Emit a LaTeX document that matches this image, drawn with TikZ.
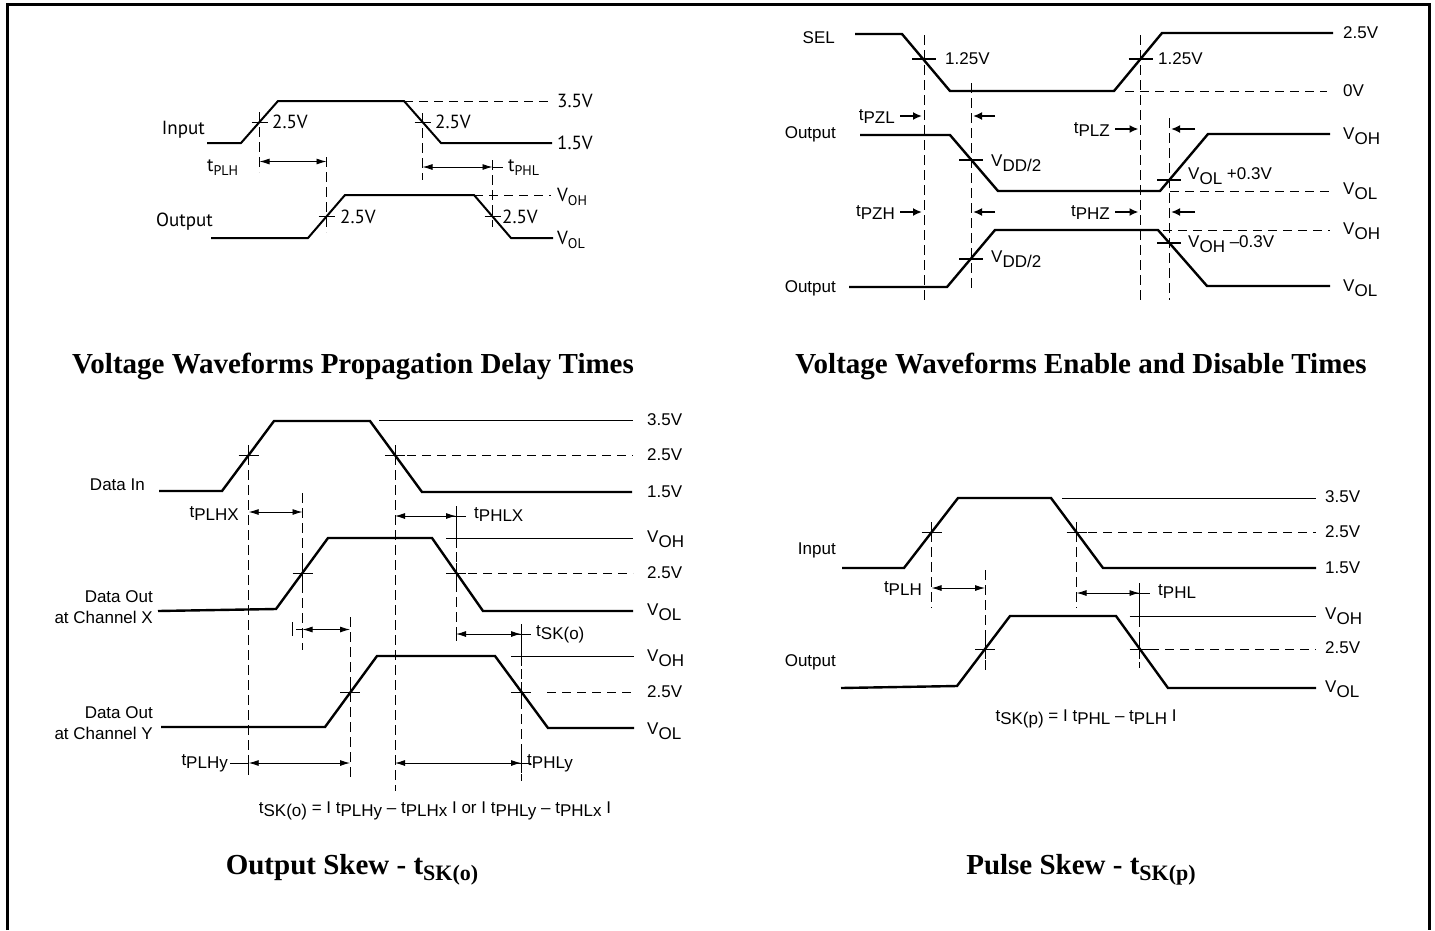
\documentclass[tikz,border=0pt]{standalone}
\usepackage{fontspec}
\setmainfont{Liberation Sans}
\newfontfamily\titlefont{Liberation Serif}
\newfontfamily\ptfont{PT Sans}
\usetikzlibrary{arrows.meta}
% t and V with lowered suffix, as the datasheet prints them
\newcommand\tsub[1]{t\raisebox{-3pt}{#1}}
\newcommand\vsub[1]{V\raisebox{-5pt}{#1}}
\newcommand\ssub[1]{\raisebox{-4pt}{\fontsize{14}{14}\selectfont #1}}

\begin{document}
\begin{tikzpicture}[x=1pt, y=-1pt,
      font=\fontsize{17}{19}\selectfont,
      lbl/.style={inner sep=0pt},
      wave/.style={line width=2.4pt, line join=miter},
      thin/.style={line width=0.9pt},
      dsh/.style={line width=0.9pt, dash pattern=on 9pt off 6pt},
      vdsh/.style={line width=0.9pt, dash pattern=on 10pt off 5pt},
      parr/.style={line width=2pt, -{Latex[length=9pt,width=8pt]}},
      title/.style={font=\titlefont\bfseries\fontsize{29}{33}\selectfont, inner sep=0pt},
      >={Latex[length=10pt,width=6pt]}
    ]
    \useasboundingbox (0,0) rectangle (1435,930);
    \draw[line width=3pt] (7,930) -- (7,4) -- (1429,4) -- (1429,930);

    % Propagation delay times (top left)
    \begin{scope}[font=\ptfont\fontsize{19}{21}\selectfont]
      \node[lbl, anchor=east] (pdIn) at (205,130) {Input};
      \node[lbl, anchor=east] (pdOut) at (213,222) {Output};
      \draw[wave, line width=2pt] (207,143) -- (241,143) -- (278,101) -- (404,101) -- (441,143) -- (552,143);
      \draw[wave, line width=2pt] (211,238) -- (308,238) -- (345,195) -- (474,195) -- (511,238) -- (553,238);
      \draw[dsh] (404,101) -- (551,101);
      \draw[dsh] (474,195) -- (551,195);
      \foreach \x/\ya/\yb in {259.5/112/172, 422.5/113/180, 326.5/157/232, 492.5/160/227}
        \draw[vdsh] (\x,\ya) -- (\x,\yb);
      \foreach \x/\y/\lx [count=\i] in {259.5/122/272, 422.5/122/435, 326.5/216.5/340, 492.5/216.5/502} {
        \draw[thin] (\x-8,\y) -- (\x+8,\y);
        \node[lbl, anchor=west] (pdMid\i) at (\lx,\y) {2.5V};
      }
      \draw[<->, thin] (259.5,161.5) -- (326.5,161.5);
      \draw[<->, thin] (422.5,167) -- (492.5,167);
      \draw[thin] (492.5,167) -- (503,167);
      \node[lbl, anchor=west] (pdPLH) at (207,168) {t\ssub{PLH}};
      \node[lbl, anchor=west] (pdPHL) at (508,168) {t\ssub{PHL}};
      \node[lbl, anchor=west] (pdHi) at (557,101) {3.5V};
      \node[lbl, anchor=west] (pdLo) at (557,143) {1.5V};
      \node[lbl, anchor=west] (pdOH) at (557,197) {V\ssub{OH}};
      \node[lbl, anchor=west] (pdOL) at (557,240) {V\ssub{OL}};
    \end{scope}
    \node[title] (ttPd) at (353,366) {Voltage Waveforms Propagation Delay Times};

    % Enable and disable times (top right)
    \node[lbl, anchor=east] (edSel) at (835,38) {SEL};
    \node[lbl, anchor=east] (edOutA) at (836,134) {Output};
    \node[lbl, anchor=east] (edOutB) at (836,288) {Output};
    \draw[wave] (855,34) -- (902,34) -- (950,91) -- (1114,91) -- (1162,33) -- (1333,33);
    \draw[wave] (860,135) -- (950,135) -- (998,191) -- (1160,191) -- (1208,134) -- (1330,134);
    \draw[wave] (849,287) -- (947,287) -- (995,230) -- (1158,230) -- (1207,286) -- (1330,286);
    \draw[dsh] (1125,91) -- (1327,91);
    \draw[dsh] (1170,191) -- (1330,191);
    \draw[dsh] (1163,230) -- (1330,230);
    \foreach \x/\ya/\yb in {924/35/303, 971/83/290, 1140.5/35/303, 1169/118/300}
      \draw[vdsh] (\x,\ya) -- (\x,\yb);
    \foreach \x/\y in {924/59, 1140.5/59, 971/159.5, 1169/180.3, 971/258.5, 1169/242.6}
      \draw[line width=2pt] (\x-12,\y) -- (\x+12,\y);
    \node[lbl, anchor=west] (edSelA) at (945,59) {1.25V};
    \node[lbl, anchor=west] (edSelB) at (1158,59) {1.25V};
    \node[lbl, anchor=west] (edHalfA) at (991,163) {\vsub{DD/2}};
    \node[lbl, anchor=west] (edHalfB) at (991,259) {\vsub{DD/2}};
    \node[lbl, anchor=west] (edPlus) at (1188,176) {\vsub{OL} +0.3V};
    \node[lbl, anchor=west] (edMinus) at (1188,244) {\vsub{OH} –0.3V};
    \foreach \y/\t [count=\i] in {32.5/2.5V, 91/0V, 136/\vsub{OH}, 191.5/\vsub{OL}, 231.5/\vsub{OH}, 288/\vsub{OL}}
      \node[lbl, anchor=west] (edLvl\i) at (1343,\y) {\t};
    \draw[parr] (900,116) -- (922,116);
    \draw[parr] (995,116) -- (973,116);
    \draw[parr] (1115,129) -- (1138.5,129);
    \draw[parr] (1195,129) -- (1171,129);
    \draw[parr] (900,212) -- (922,212);
    \draw[parr] (995,212) -- (973,212);
    \draw[parr] (1115,212) -- (1138.5,212);
    \draw[parr] (1195,212) -- (1171,212);
    \node[lbl, anchor=east] (edPZL) at (895,116) {\tsub{PZL}};
    \node[lbl, anchor=east] (edPLZ) at (1110,129) {\tsub{PLZ}};
    \node[lbl, anchor=east] (edPZH) at (895,212) {\tsub{PZH}};
    \node[lbl, anchor=east] (edPHZ) at (1110,212) {\tsub{PHZ}};
    \node[title] (ttEd) at (1081,366) {Voltage Waveforms Enable and Disable Times};

    % Output skew (bottom left)
    \node[lbl, anchor=east] (skIn) at (145,485) {Data In};
    \node[lbl, anchor=east, align=right, font=\fontsize{17}{21.5}\selectfont] (skX) at (153,607) {Data Out\\at Channel X};
    \node[lbl, anchor=east, align=right, font=\fontsize{17}{21.5}\selectfont] (skY) at (153,723) {Data Out\\at Channel Y};
    \draw[wave] (159,491) -- (222,491) -- (274,421) -- (370,421) -- (422,492) -- (632,492);
    \draw[wave] (158,611) -- (276,609) -- (328,538) -- (432,538) -- (483,611) -- (633,611);
    \draw[wave] (161,727) -- (325,727) -- (377,656) -- (495,656) -- (548,728) -- (634,728);
    \draw[thin] (379,420) -- (633,420);
    \draw[thin] (447,538) -- (633,538);
    \draw[thin] (511,656) -- (634,656);
    \draw[dsh] (407,455) -- (633,455);
    \draw[dsh] (468,573) -- (633,573);
    \draw[dsh] (547,692) -- (634,692);
    \foreach \x/\ya/\yb in {248.7/455/775, 395/455/791, 302.5/493/650, 456/507/641, 350/617/780, 521/624/781}
      \draw[vdsh] (\x,\ya) -- (\x,\yb);
    \foreach \x/\y in {248.7/455, 395/455, 302.5/573, 456/573, 350/692, 521/692, 456/538, 521/656, 456/516, 521/634, 521/763}
      \draw[thin] (\x-10,\y) -- (\x+10,\y) (\x,\y-10) -- (\x,\y+10);
    \draw[<->, thin] (248.7,512) -- (302.5,512);
    \draw[<->, thin] (395,516) -- (456,516);
    \draw[<->, thin] (302.5,629.5) -- (350,629.5);
    \draw[thin] (292,622) -- (292,636) (296,629.5) -- (302.5,629.5);
    \draw[<->, thin] (456,634) -- (521,634);
    \draw[thin] (456,627) -- (456,641);
    \draw[<->, thin] (248.7,763) -- (350,763);
    \draw[thin] (230,763) -- (248.7,763) (248.7,756) -- (248.7,770);
    \draw[<->, thin] (395,763) -- (521,763);
    \node[lbl, anchor=east] (skPLHX) at (239,513) {\tsub{PLHX}};
    \node[lbl, anchor=west] (skPHLX) at (474,514) {\tsub{PHLX}};
    \node[lbl, anchor=west] (skSK) at (536,634) {\tsub{SK(o)}};
    \node[lbl, anchor=east] (skPLHy) at (228,763) {\tsub{PLHy}};
    \node[lbl, anchor=west] (skPHLy) at (527,763) {\tsub{PHLy}};
    \foreach \y/\t [count=\i] in {420/3.5V, 455/2.5V, 492/1.5V, 539/\vsub{OH}, 573/2.5V, 612.5/\vsub{OL}, 658/\vsub{OH}, 692/2.5V, 731/\vsub{OL}}
      \node[lbl, anchor=west] (skLvl\i) at (647,\y) {\t};
    \node[lbl] (skEq) at (435,811) {\tsub{SK(o)} = I \tsub{PLHy} – \tsub{PLHx} I or I \tsub{PHLy} – \tsub{PHLx} I};
    \node[title] (ttSo) at (352,870) {Output Skew - t\raisebox{-6pt}{\fontsize{22}{22}\selectfont SK(o)}};

    % Pulse skew (bottom right)
    \node[lbl, anchor=east] (psIn) at (836,550) {Input};
    \node[lbl, anchor=east] (psOut) at (836,662) {Output};
    \draw[wave] (842,568) -- (904,568) -- (958,498) -- (1051,498) -- (1103,568) -- (1316,568);
    \draw[wave] (841,688) -- (957,686) -- (1010,616) -- (1116,616) -- (1168,688) -- (1316,688);
    \draw[thin] (1062,498) -- (1316,498);
    \draw[thin] (1130,616) -- (1316,616);
    \draw[dsh] (1088,532) -- (1316,532);
    \draw[dsh] (1150,649) -- (1316,649);
    \foreach \x/\ya/\yb in {931.5/532/608, 1076.5/532/608, 985/570/673, 1139.5/587/668}
      \draw[vdsh] (\x,\ya) -- (\x,\yb);
    \foreach \x/\y in {931.5/532, 1076.5/532, 985/649, 1139.5/649, 1139.5/616, 1139.5/593}
      \draw[thin] (\x-10,\y) -- (\x+10,\y) (\x,\y-10) -- (\x,\y+10);
    \draw[<->, thin] (931.5,588) -- (985,588);
    \draw[<->, thin] (1076.5,593) -- (1139.5,593);
    \node[lbl, anchor=east] (psPLH) at (922,588) {\tsub{PLH}};
    \node[lbl, anchor=west] (psPHL) at (1158,591) {\tsub{PHL}};
    \foreach \y/\t [count=\i] in {497/3.5V, 532/2.5V, 568/1.5V, 616/\vsub{OH}, 648/2.5V, 689/\vsub{OL}}
      \node[lbl, anchor=west] (psLvl\i) at (1325,\y) {\t};
    \node[lbl] (psEq) at (1086,719) {\tsub{SK(p)} = I \tsub{PHL} – \tsub{PLH} I};
    \node[title] (ttSp) at (1081,870) {Pulse Skew - t\raisebox{-6pt}{\fontsize{22}{22}\selectfont SK(p)}};
\end{tikzpicture}
\end{document}
